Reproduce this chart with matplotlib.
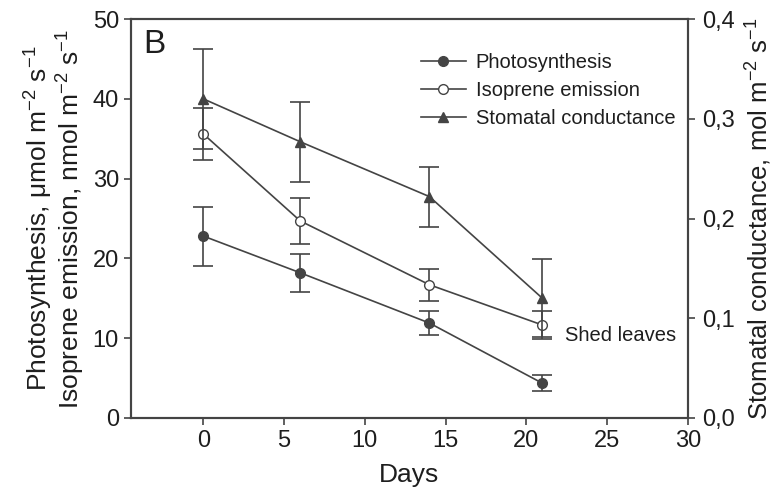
import numpy as np
import matplotlib
matplotlib.use('Agg')
import matplotlib.pyplot as plt
from matplotlib.lines import Line2D

plt.rcParams['font.family'] = ['Liberation Sans', 'DejaVu Sans']
plt.rcParams['mathtext.fontset'] = 'custom'
plt.rcParams['mathtext.rm'] = 'Liberation Sans'
plt.rcParams['mathtext.it'] = 'Liberation Sans'

days = [0, 6, 14, 21]
photo = [22.8, 18.2, 11.9, 4.35]
photo_err = [3.7, 2.4, 1.45, 1.0]
iso = [35.6, 24.7, 16.7, 11.65]
iso_err = [3.2, 2.9, 2.0, 1.7]
stom = [0.320, 0.277, 0.222, 0.120]
stom_err = [0.050, 0.040, 0.030, 0.039]
series_names = ['Photosynthesis', 'Isoprene emission', 'Stomatal conductance']

col = '#444444'
txt = '#1e1e1e'

fig = plt.figure(figsize=(7.78, 4.90), dpi=100)
ax = fig.add_axes([0.168, 0.147, 0.716, 0.814])
ax2 = ax.twinx()

kw = dict(color=col, lw=1.2, capsize=7, elinewidth=1.2, capthick=1.2, markersize=7)
ax.errorbar(days, photo, yerr=photo_err, fmt='-o', mfc=col, mec=col, **kw)
ax.errorbar(days, iso, yerr=iso_err, fmt='-o', mfc='white', mec=col, **kw)
ax2.errorbar(days, stom, yerr=stom_err, fmt='-^', mfc=col, mec=col, **kw)

ax.set_xlim(-4.5, 30)
ax.set_ylim(0, 50)
ax2.set_ylim(0, 0.4)
ax.set_xticks([0, 5, 10, 15, 20, 25, 30])
ax.set_yticks([0, 10, 20, 30, 40, 50])
ax2.set_yticks([0, 0.1, 0.2, 0.3, 0.4])
ax2.set_yticklabels(['0,0', '0,1', '0,2', '0,3', '0,4'])

for a in (ax, ax2):
    a.tick_params(direction='out', length=5, width=1.2, colors=col, labelsize=17, labelcolor=txt)
    for s in a.spines.values():
        s.set_color(col)
        s.set_linewidth(1.5)
ax2.tick_params(pad=5)

ax.set_xlabel('Days', fontsize=19, color=txt, labelpad=8)
ax.set_ylabel('Photosynthesis, μmol m$^{-2}$ s$^{-1}$\nIsoprene emission, nmol m$^{-2}$ s$^{-1}$',
              fontsize=19, color=txt, labelpad=4, linespacing=1.0)
ax2.set_ylabel('Stomatal conductance, mol m$^{-2}$ s$^{-1}$', fontsize=18.5, color=txt, labelpad=7)

ax.text(0.022, 0.975, 'B', transform=ax.transAxes, fontsize=24, va='top', ha='left', color=txt)
ax.text(22.4, 10.4, 'Shed leaves', fontsize=14.5, va='center', ha='left', color=txt)

handles = [Line2D([], [], color=col, lw=1.2, marker='o', mfc=col, mec=col, markersize=7),
           Line2D([], [], color=col, lw=1.2, marker='o', mfc='white', mec=col, markersize=7),
           Line2D([], [], color=col, lw=1.2, marker='^', mfc=col, mec=col, markersize=7)]
leg = ax.legend(handles, series_names, loc='upper right', bbox_to_anchor=(1.01, 0.96),
                frameon=False, fontsize=14.5, handlelength=2.2, handletextpad=0.5, labelspacing=0.45)
for t in leg.get_texts():
    t.set_color(txt)

fig.savefig('out.png', dpi=100)
